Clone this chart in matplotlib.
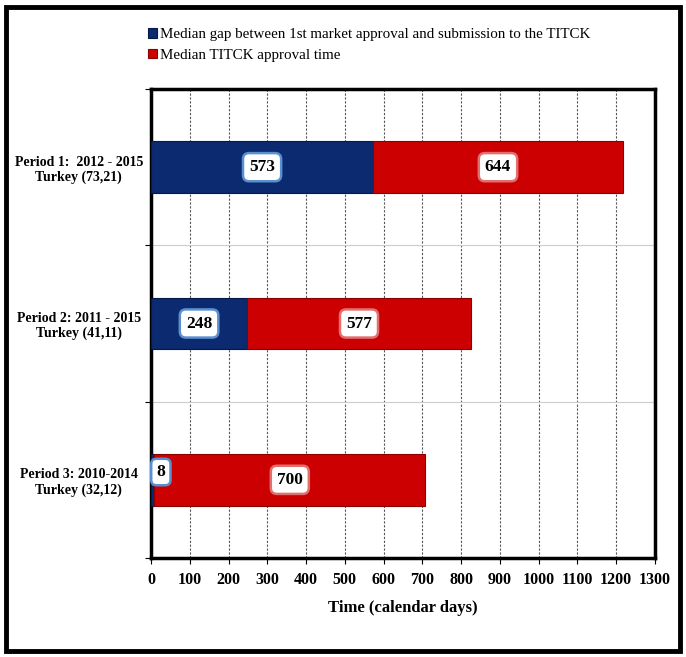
import numpy as np
import matplotlib.pyplot as plt
from matplotlib.patches import Rectangle

categories = ['Period 1:  2012 - 2015\nTurkey (73,21)',
              'Period 2: 2011 - 2015\nTurkey (41,11)',
              'Period 3: 2010-2014\nTurkey (32,12)']
gap_days = [573, 248, 8]
approval_days = [644, 577, 700]
x_ticks = list(range(0, 1301, 100))

blue = '#0b2a6f'
red = '#cc0000'
serif = ['Liberation Serif', 'DejaVu Serif']

fig = plt.figure(figsize=(6.86, 6.57), dpi=100)
fig.patches.append(Rectangle((6 / 686, 6 / 657), 674 / 686, 644 / 657,
                             transform=fig.transFigure, fill=False,
                             edgecolor='black', linewidth=3.5))

ax = fig.add_axes([151 / 686, 99 / 657, 504 / 686, 469 / 657])
y = np.array([2, 1, 0])
h = 0.33

b1 = ax.barh(y, gap_days, height=h, color=blue, edgecolor='#061a4a', linewidth=0.8,
             label='Median gap between 1st market approval and submission to the TITCK', zorder=3)
b2 = ax.barh(y, approval_days, left=gap_days, height=h, color=red, edgecolor='#8a0000',
             linewidth=0.8, label='Median TITCK approval time', zorder=3)

lab = dict(fontsize=12.5, fontweight='bold', family=serif, zorder=5, va='center')
for yi, g, a in zip(y, gap_days, approval_days):
    if g > 50:
        ax.text(g / 2, yi, str(g), ha='center', **lab,
                bbox=dict(boxstyle='round,pad=0.35', facecolor='white', edgecolor='#5b8fd0', linewidth=1.8))
    else:
        ax.text(g + 6, yi + 0.05, str(g), ha='left', **lab,
                bbox=dict(boxstyle='round,pad=0.3', facecolor='white', edgecolor='#5b8fd0', linewidth=1.8))
    ax.text(g + a / 2, yi, str(a), ha='center', **lab,
            bbox=dict(boxstyle='round,pad=0.35', facecolor='white', edgecolor='#e07070', linewidth=1.8))

ax.set_xlim(0, 1300)
ax.set_ylim(-0.5, 2.5)
ax.set_xticks(x_ticks)
ax.set_xticklabels([str(t) for t in x_ticks], fontsize=11.5, fontweight='bold', family=serif)
ax.set_yticks([-0.5, 0.5, 1.5, 2.5])
ax.set_yticklabels([])
ax.set_yticks(y, minor=True)
ax.set_yticklabels(categories, minor=True, fontsize=10, fontweight='bold', family=serif,
                   ha='center')
ax.tick_params(axis='y', which='minor', length=0, pad=52)
ax.tick_params(axis='y', which='major', length=4, direction='out')
ax.tick_params(axis='x', length=4, direction='out', pad=6)

ax.grid(axis='x', linestyle=(0, (2, 1.5)), color='#555555', linewidth=0.8, zorder=0)
ax.grid(axis='y', which='major', linestyle='-', color='#cccccc', linewidth=0.8, zorder=0)
for s in ax.spines.values():
    s.set_linewidth(2.5)

ax.set_xlabel('Time (calendar days)', fontsize=12, fontweight='bold', family=serif, labelpad=9)

fig.legend(handles=[b1, b2], loc='upper left', bbox_to_anchor=(142 / 686, 1 - 22 / 657),
           frameon=False, prop={'family': serif, 'size': 10.8}, handlelength=0.6, handleheight=0.6,
           handletextpad=0.2, labelspacing=0.5, borderaxespad=0)

fig.savefig('out.png', dpi=100)
